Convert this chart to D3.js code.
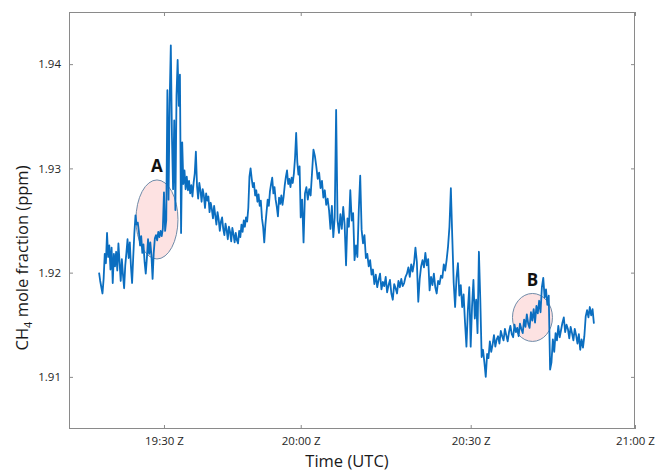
<!DOCTYPE html>
<html>
<head>
<meta charset="utf-8">
<script src="https://cdn.jsdelivr.net/npm/d3@7"></script>
<style>
  html, body { margin: 0; padding: 0; background: #fff; }
  svg { display: block; font-family: "Open Sans", "DejaVu Sans", sans-serif; }
</style>
</head>
<body>
<svg id="chart" width="659" height="472"></svg>
<script>
// Airborne CH4 record: one sample every 15 s, times in minutes after 19:00 UTC
const startMinute = 15.75;
const stepMinutes = 0.25;
const ch4Ppb = [
  1920.0,1919.2,1918.6,1918.0,1919.4,1921.8,1920.9,1923.8,1921.5,1922.6,
  1920.3,1922.4,1919.0,1921.8,1920.6,1922.0,1920.2,1922.8,1921.0,1919.2,
  1921.3,1919.8,1918.5,1920.7,1921.9,1923.2,1921.4,1922.9,1920.6,1919.0,
  1921.5,1923.8,1925.5,1924.6,1924.8,1923.9,1922.6,1923.5,1921.9,1922.7,
  1921.0,1919.9,1921.4,1923.2,1921.8,1922.9,1921.6,1919.4,1921.9,1923.3,
  1923.6,1923.1,1923.9,1923.4,1924.0,1923.5,1924.2,1927.7,1924.0,1925.0,
  1937.5,1927.0,1936.5,1941.8,1933.0,1928.0,1934.6,1926.0,1937.0,1940.4,
  1936.0,1939.0,1923.8,1932.5,1928.5,1929.8,1928.0,1929.2,1927.9,1928.8,
  1927.6,1928.4,1927.3,1928.6,1929.5,1931.6,1928.3,1927.1,1928.6,1927.9,
  1926.8,1928.0,1927.4,1926.2,1927.6,1926.9,1927.3,1925.8,1926.7,1926.1,
  1925.2,1926.4,1925.5,1924.6,1925.8,1925.1,1924.0,1924.9,1925.3,1924.2,
  1923.6,1924.7,1924.1,1923.2,1924.4,1923.9,1923.0,1924.3,1923.7,1922.9,
  1923.8,1923.1,1922.8,1924.0,1923.4,1924.6,1923.9,1925.0,1924.4,1925.3,
  1924.9,1926.2,1929.2,1930.0,1929.0,1928.2,1928.6,1927.4,1927.9,1926.8,
  1927.5,1926.4,1926.9,1925.2,1924.4,1922.9,1924.6,1925.8,1927.0,1926.4,
  1927.8,1928.5,1929.1,1927.6,1928.2,1927.0,1926.3,1925.4,1927.2,1926.6,
  1927.4,1926.5,1927.3,1928.4,1929.2,1929.8,1928.5,1929.0,1928.2,1929.1,
  1928.6,1929.5,1931.0,1933.4,1930.6,1929.4,1930.2,1925.3,1927.0,1922.9,
  1927.6,1928.2,1927.0,1928.0,1927.4,1929.6,1931.8,1931.2,1930.2,1929.0,
  1929.6,1928.1,1928.8,1927.2,1927.9,1926.5,1927.1,1926.0,1924.2,1926.4,
  1923.4,1925.3,1935.6,1925.0,1923.8,1925.6,1924.2,1926.3,1924.6,1920.7,
  1925.2,1924.4,1927.9,1925.0,1925.7,1921.2,1922.6,1921.5,1926.0,1929.3,
  1924.1,1922.8,1923.6,1921.4,1921.8,1920.6,1921.2,1919.8,1920.3,1918.9,
  1919.8,1918.6,1919.3,1919.9,1918.4,1919.1,1918.7,1919.6,1918.1,1918.8,
  1919.3,1918.0,1917.4,1918.9,1918.5,1918.0,1919.2,1918.6,1919.4,1918.7,
  1919.0,1919.6,1919.9,1920.5,1919.6,1920.8,1920.1,1920.9,1922.4,1921.0,
  1917.2,1919.4,1920.6,1921.2,1920.5,1921.9,1920.7,1921.3,1918.3,1919.6,
  1918.8,1919.9,1918.6,1918.0,1919.2,1918.9,1919.7,1919.5,1920.8,1920.2,
  1921.2,1922.5,1924.4,1928.1,1923.4,1919.0,1916.7,1919.5,1920.9,1917.8,
  1918.8,1916.7,1917.9,1915.2,1912.9,1916.4,1918.6,1912.9,1916.8,1919.3,
  1915.6,1917.4,1914.2,1922.0,1917.5,1911.9,1912.6,1911.4,1910.0,1912.2,
  1911.8,1913.4,1912.4,1913.1,1914.0,1912.9,1913.6,1913.9,1913.2,1914.4,
  1913.9,1913.5,1914.6,1914.0,1913.4,1914.3,1914.9,1914.1,1913.8,1915.0,
  1914.3,1914.7,1913.9,1915.1,1914.6,1914.2,1915.5,1914.8,1916.0,1915.1,
  1914.7,1916.2,1915.4,1916.5,1915.2,1916.8,1916.1,1917.3,1916.2,1918.6,
  1919.5,1917.6,1918.4,1916.9,1917.8,1910.7,1911.4,1913.6,1912.4,1914.2,
  1913.5,1914.9,1913.8,1914.5,1915.2,1915.7,1914.3,1915.0,1914.6,1913.7,
  1914.8,1914.2,1913.5,1914.6,1914.0,1913.2,1914.1,1912.6,1913.6,1912.8,
  1913.9,1915.8,1916.4,1915.7,1916.7,1915.9,1916.5,1915.1
];

const xTickMinutes = [30, 60, 90, 120];
const xTickLabels = ["19:30 Z", "20:00 Z", "20:30 Z", "21:00 Z"];
const yTickValues = [1.91, 1.92, 1.93, 1.94];
const yTickLabels = ["1.91", "1.92", "1.93", "1.94"];

// Highlighted plume encounters
const plumeNames = ["A", "B"];
const plumeCentreMinute = [28.46, 101.28];
const plumeCentrePpm = [1.9251, 1.9157];
const plumeHalfWidthMin = [4.61, 3.65];
const plumeHalfHeightPpm = [0.00379, 0.00230];

const svg = d3.select("#chart");
const frame = { left: 69, right: 635, top: 12, bottom: 429 };
const W = frame.right - frame.left;

// Time axis is stretched piecewise between its labelled hours
const x = d3.scaleLinear()
  .domain([9.15, 30, 60, 90, 120])
  .range([frame.left, frame.left + 0.1678 * W, frame.left + 0.4094 * W, frame.left + 0.7097 * W, frame.right]);
const y = d3.scaleLinear().domain([1.905, 1.945]).range([frame.bottom, frame.top]);

const series = ch4Ppb.map((v, i) => ({ t: startMinute + i * stepMinutes, v: v / 1000 }));

// Plume ellipses sit beneath the trace
const plumes = plumeNames.map((n, i) => ({
  name: n, t: plumeCentreMinute[i], v: plumeCentrePpm[i],
  hw: plumeHalfWidthMin[i], hh: plumeHalfHeightPpm[i]
}));
const pg = svg.append("g");
pg.selectAll("ellipse").data(plumes).join("ellipse")
  .attr("cx", d => x(d.t))
  .attr("cy", d => y(d.v))
  .attr("rx", d => x(d.t + d.hw) - x(d.t))
  .attr("ry", d => y(d.v) - y(d.v + d.hh))
  .attr("fill", "#fde2e2")
  .attr("stroke", "#5f7f9f")
  .attr("stroke-width", 0.9);
pg.selectAll("text").data(plumes).join("text")
  .attr("x", d => x(d.t))
  .attr("y", d => y(d.v + d.hh) - 7.5)
  .attr("text-anchor", "middle")
  .attr("font-size", 17)
  .attr("font-weight", "bold")
  .attr("fill", "#111")
  .text(d => d.name);

// Measurement trace
const line = d3.line().x(d => x(d.t)).y(d => y(d.v));
svg.append("path")
  .datum(series)
  .attr("d", line)
  .attr("fill", "none")
  .attr("stroke", "#0b6ec0")
  .attr("stroke-width", 1.8)
  .attr("stroke-linejoin", "round");

// Axes with inward ticks on all four sides
const tickLen = 4;
const styleAxis = g => {
  g.select(".domain").remove();
  g.selectAll(".tick line").attr("stroke", "#8a8a8a");
  g.selectAll(".tick text").attr("fill", "#262626").attr("font-size", 11.5)
    .attr("font-family", '"Open Sans", "DejaVu Sans", sans-serif');
};
svg.append("g").attr("transform", `translate(0,${frame.bottom})`)
  .call(d3.axisBottom(x).tickValues(xTickMinutes).tickFormat((d, i) => xTickLabels[i])
    .tickSizeInner(-tickLen).tickSizeOuter(0).tickPadding(8))
  .call(styleAxis);
svg.append("g").attr("transform", `translate(0,${frame.top})`)
  .call(d3.axisTop(x).tickValues(xTickMinutes).tickFormat("")
    .tickSizeInner(-tickLen).tickSizeOuter(0))
  .call(styleAxis);
svg.append("g").attr("transform", `translate(${frame.left},0)`)
  .call(d3.axisLeft(y).tickValues(yTickValues).tickFormat((d, i) => yTickLabels[i])
    .tickSizeInner(-tickLen).tickSizeOuter(0).tickPadding(8))
  .call(styleAxis);
svg.append("g").attr("transform", `translate(${frame.right},0)`)
  .call(d3.axisRight(y).tickValues(yTickValues).tickFormat("")
    .tickSizeInner(-tickLen).tickSizeOuter(0))
  .call(styleAxis);

// Plot box
svg.append("rect")
  .attr("x", frame.left + 0.5).attr("y", frame.top + 0.5)
  .attr("width", W - 1).attr("height", frame.bottom - frame.top - 1)
  .attr("fill", "none").attr("stroke", "#8a8a8a").attr("stroke-width", 1);

// Axis titles
svg.append("text")
  .attr("x", 347).attr("y", 467)
  .attr("text-anchor", "middle")
  .attr("font-size", 16.5).attr("fill", "#1a1a1a")
  .text("Time (UTC)");
const yt = svg.append("text")
  .attr("transform", "translate(28,258) rotate(-90)")
  .attr("text-anchor", "middle")
  .attr("font-size", 16.5).attr("fill", "#1a1a1a");
yt.append("tspan").text("CH");
yt.append("tspan").attr("font-size", 11).attr("dy", 4).text("4");
yt.append("tspan").attr("dy", -4).text(" mole fraction (ppm)");
</script>
</body>
</html>
